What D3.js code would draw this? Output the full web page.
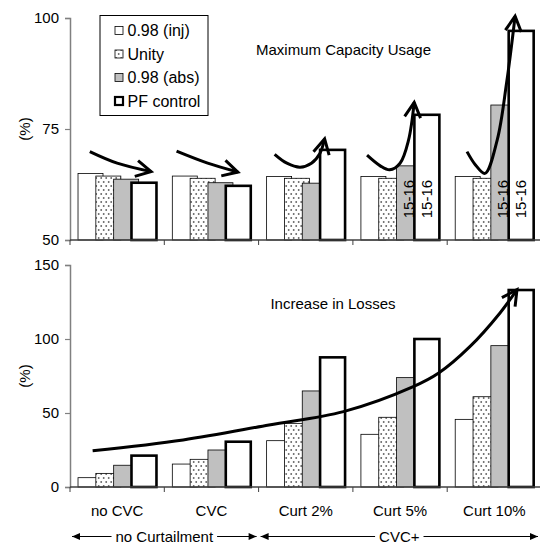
<!DOCTYPE html>
<html>
<head>
<meta charset="utf-8">
<script src="https://cdn.jsdelivr.net/npm/d3@7"></script>
<style>
  html, body { margin: 0; padding: 0; background: #fff; }
  svg { display: block; font-family: "Liberation Sans", Arial, sans-serif; }
</style>
</head>
<body>
<svg id="chart" width="540" height="545"></svg>
<script>
// ---------------- data ----------------
const categories = ["no CVC", "CVC", "Curt 2%", "Curt 5%", "Curt 10%"];
const seriesNames = ["0.98 (inj)", "Unity", "0.98 (abs)", "PF control"];

const capacityInj   = [65.0, 64.4, 64.3, 64.3, 64.3];
const capacityUnity = [64.4, 63.9, 63.9, 63.9, 63.9];
const capacityAbs   = [63.7, 62.9, 62.8, 66.7, 80.4];
const capacityPF    = [62.9, 62.2, 70.3, 78.2, 97.1];

const lossesInj   = [6.3, 15.5, 31.3, 35.6, 45.7];
const lossesUnity = [9.2, 18.7, 43.0, 47.1, 61.0];
const lossesAbs   = [14.7, 25.0, 64.9, 73.9, 95.5];
const lossesPF    = [21.2, 30.6, 87.6, 100.0, 133.1];

const capacityTicks = [50, 75, 100];
const lossesTicks = [0, 50, 100, 150];

const capacityTitle = "Maximum Capacity Usage";
const lossesTitle = "Increase in Losses";
const yLabel = "(%)";

const groups = [
  { label: "no Curtailment", from: 0, to: 2 },
  { label: "CVC+", from: 2, to: 5 }
];

// "15-16" labels: [category index, series index]
const barNotes = [[3, 2], [3, 3], [4, 2], [4, 3]];
const barNoteText = "15-16";

// hand-drawn trend arrows, in (category position, value)
const capacityArrows = [
  [[0.21, 69.9], [0.50, 67.3], [0.86, 65.4]],
  [[1.13, 70.0], [1.46, 67.3], [1.78, 65.3]],
  [[2.17, 69.3], [2.30, 67.3], [2.44, 66.4], [2.56, 67.3], [2.65, 69.5], [2.70, 72.8]],
  [[3.15, 69.1], [3.29, 66.7], [3.39, 65.8], [3.50, 67.3], [3.59, 72.5], [3.65, 81.0]],
  [[4.21, 69.9], [4.30, 66.9], [4.40, 65.0], [4.53, 72.5], [4.63, 85.4], [4.72, 100.4]]
];
const lossesArrow = [[0.24, 24.5], [1.20, 31.8], [2.11, 41.9], [2.90, 50.9], [3.64, 67.8],
                     [3.91, 77.0], [4.24, 94.8], [4.56, 117.6], [4.74, 133.3]];

// ---------------- layout ----------------
const svg = d3.select("#chart");
const X0 = 70, X1 = 541.5;
const AXIS_COLOR = "#808080";
const FONT = 15;

const x = d3.scaleBand().domain(categories).range([X0, X1]).paddingInner(0).paddingOuter(0);
const xPos = d3.scaleLinear().domain([0, categories.length]).range([X0, X1]);
const bw = x.bandwidth();
const barW = bw * 0.265, barStep = bw * 0.189, barOff = bw * 0.085;

const yTop = d3.scaleLinear().domain([50, 100]).range([240, 18]);
const yBot = d3.scaleLinear().domain([0, 150]).range([487, 265]);

// pattern
const defs = svg.append("defs");
const pat = defs.append("pattern").attr("id", "dots").attr("patternUnits", "userSpaceOnUse")
  .attr("width", 5).attr("height", 8);
pat.append("rect").attr("width", 5).attr("height", 8).attr("fill", "#fff");
pat.append("circle").attr("cx", 1.2).attr("cy", 2).attr("r", 0.95).attr("fill", "#666");
pat.append("circle").attr("cx", 3.7).attr("cy", 6).attr("r", 0.95).attr("fill", "#666");

defs.append("marker").attr("id", "openHead").attr("markerUnits", "userSpaceOnUse")
  .attr("orient", "auto").attr("refX", 0).attr("refY", 0)
  .attr("markerWidth", 40).attr("markerHeight", 40).attr("viewBox", "-20 -20 40 40")
  .style("overflow", "visible")
  .append("path").attr("d", "M-15,-8 L0,0 L-15,8").attr("fill", "none")
  .attr("stroke", "#000").attr("stroke-width", 3).attr("stroke-linejoin", "miter");

defs.append("marker").attr("id", "solidHead").attr("markerUnits", "userSpaceOnUse")
  .attr("orient", "auto").attr("refX", 0).attr("refY", 0)
  .attr("markerWidth", 20).attr("markerHeight", 20).attr("viewBox", "-10 -10 20 20")
  .style("overflow", "visible")
  .append("path").attr("d", "M0,0 L-8,-3.5 L-8,3.5 Z").attr("fill", "#000");

const styles = [
  { fill: "#fff", stroke: "#000", sw: 0.8 },
  { fill: "url(#dots)", stroke: "#000", sw: 0.8 },
  { fill: "#c0c0c0", stroke: "#000", sw: 0.8 },
  { fill: "#fff", stroke: "#000", sw: 2.6 }
];

function drawPanel(series, y, ticks, title, titleX, titleY) {
  const g = svg.append("g");
  series.forEach((vals, si) => {
    g.selectAll(null).data(categories).enter().append("rect")
      .attr("x", c => x(c) + barOff + si * barStep)
      .attr("width", barW)
      .attr("y", (c, i) => y(vals[i]))
      .attr("height", (c, i) => y(y.domain()[0]) - y(vals[i]))
      .attr("fill", styles[si].fill)
      .attr("stroke", styles[si].stroke)
      .attr("stroke-width", styles[si].sw);
  });
  const yAxis = d3.axisLeft(y).tickValues(ticks).tickSize(5).tickPadding(6).tickFormat(d3.format("d"));
  const ya = g.append("g").attr("transform", `translate(${X0},0)`).call(yAxis);
  ya.select(".domain").attr("stroke", AXIS_COLOR).attr("stroke-width", 1.5);
  ya.selectAll(".tick line").attr("stroke", AXIS_COLOR).attr("stroke-width", 1.2);
  ya.selectAll(".tick text").attr("font-size", FONT).attr("fill", "#000")
    .attr("font-family", "Liberation Sans, Arial, sans-serif");
  const base = y(y.domain()[0]);
  g.append("line").attr("x1", X0).attr("x2", X1).attr("y1", base).attr("y2", base)
    .attr("stroke", "#404040").attr("stroke-width", 1.5);
  g.selectAll(null).data(d3.range(categories.length + 1)).enter().append("line")
    .attr("x1", d => xPos(d)).attr("x2", d => xPos(d))
    .attr("y1", base).attr("y2", base + 5)
    .attr("stroke", "#404040").attr("stroke-width", 1);
  const yc = (y.range()[0] + y.range()[1]) / 2;
  g.append("text").attr("transform", `translate(30,${yc}) rotate(-90)`)
    .attr("text-anchor", "middle").attr("font-size", FONT).text(yLabel);
  g.append("text").attr("x", titleX).attr("y", titleY).attr("text-anchor", "middle")
    .attr("font-size", FONT).text(title);
  return g;
}

const gTop = drawPanel([capacityInj, capacityUnity, capacityAbs, capacityPF], yTop, capacityTicks,
  capacityTitle, 343.5, 55);
const gBot = drawPanel([lossesInj, lossesUnity, lossesAbs, lossesPF], yBot, lossesTicks,
  lossesTitle, 333, 308.5);

gTop.selectAll(null).data(barNotes).enter().append("text")
  .attr("transform", d => {
    const cx = x(categories[d[0]]) + barOff + d[1] * barStep + barW / 2;
    return `translate(${cx + 5},${yTop(54.9)}) rotate(-90)`;
  })
  .attr("font-size", FONT).attr("text-anchor", "start").text(barNoteText);

const line = d3.line().curve(d3.curveCatmullRom.alpha(0.5));
gTop.selectAll(null).data(capacityArrows).enter().append("path")
  .attr("d", pts => line(pts.map(p => [xPos(p[0]), yTop(p[1])])))
  .attr("fill", "none").attr("stroke", "#000").attr("stroke-width", 3)
  .attr("marker-end", "url(#openHead)");
gBot.append("path")
  .attr("d", line(lossesArrow.map(p => [xPos(p[0]), yBot(p[1])])))
  .attr("fill", "none").attr("stroke", "#000").attr("stroke-width", 3)
  .attr("marker-end", "url(#openHead)");

// legend
const lg = svg.append("g");
lg.append("rect").attr("x", 100).attr("y", 15.5).attr("width", 108).attr("height", 100)
  .attr("fill", "#fff").attr("stroke", "#000").attr("stroke-width", 1);
seriesNames.forEach((n, i) => {
  const cy = 30.5 + i * 23.5;
  lg.append("rect").attr("x", 115).attr("y", cy - 4).attr("width", 8).attr("height", 8)
    .attr("fill", styles[i].fill).attr("stroke", "#000")
    .attr("stroke-width", i === 3 ? 2.2 : 0.8);
  lg.append("text").attr("x", 127.5).attr("y", cy + 5.5).attr("font-size", 16).text(n);
});

svg.selectAll(null).data(categories).enter().append("text")
  .attr("x", c => x(c) + bw / 2).attr("y", 516).attr("text-anchor", "middle")
  .attr("font-size", FONT).text(c => c);

const gy = 536.5;
groups.forEach(gr => {
  const a = xPos(gr.from) + 2, b = Math.min(xPos(gr.to), 540) - 2;
  const t = svg.append("text").attr("x", (a + b) / 2).attr("y", gy + 5).attr("text-anchor", "middle")
    .attr("font-size", FONT).text(gr.label);
  const w = t.node().getComputedTextLength();
  const m = (a + b) / 2;
  svg.append("line").attr("x1", m - w / 2 - 4).attr("x2", a).attr("y1", gy).attr("y2", gy)
    .attr("stroke", "#000").attr("stroke-width", 1.2).attr("marker-end", "url(#solidHead)");
  svg.append("line").attr("x1", m + w / 2 + 4).attr("x2", b).attr("y1", gy).attr("y2", gy)
    .attr("stroke", "#000").attr("stroke-width", 1.2).attr("marker-end", "url(#solidHead)");
});
</script>
</body>
</html>
